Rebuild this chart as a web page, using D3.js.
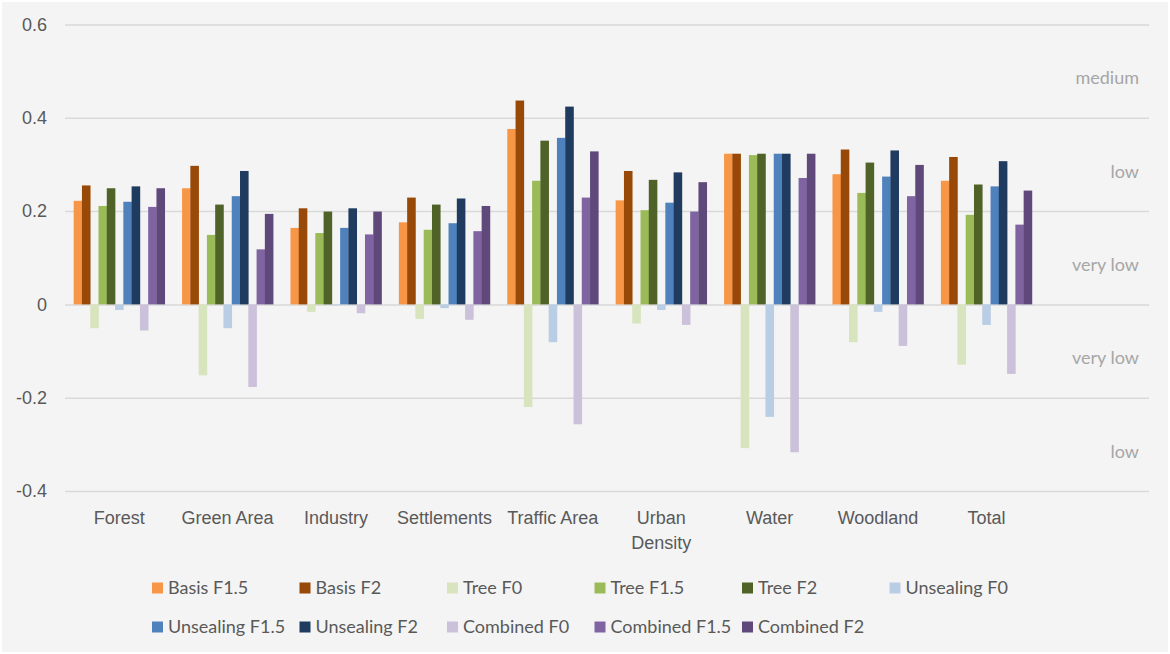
<!DOCTYPE html>
<html>
<head>
<meta charset="utf-8">
<script src="https://cdn.jsdelivr.net/npm/d3@7"></script>
<style>
  html, body { margin: 0; padding: 0; background: #fff; }
  svg { display: block; font-family: Lato, "Open Sans", sans-serif; }
</style>
</head>
<body>
<div id="chart"></div>
<script>
// categories along the x axis (Excel leaves one empty slot at the end)
const categories = ["Forest", "Green Area", "Industry", "Settlements", "Traffic Area",
  "Urban Density", "Water", "Woodland", "Total"];

// series values, one per category
const basisF15     = [0.222, 0.249, 0.164, 0.176, 0.376, 0.223, 0.323, 0.279, 0.265];
const basisF2      = [0.255, 0.297, 0.206, 0.229, 0.437, 0.286, 0.323, 0.332, 0.316];
const treeF0       = [-0.051, -0.152, -0.016, -0.031, -0.220, -0.041, -0.308, -0.081, -0.129];
const treeF15      = [0.211, 0.149, 0.153, 0.160, 0.265, 0.202, 0.320, 0.239, 0.192];
const treeF2       = [0.249, 0.214, 0.199, 0.214, 0.351, 0.267, 0.323, 0.304, 0.257];
const unsealingF0  = [-0.012, -0.051, -0.002, -0.008, -0.081, -0.012, -0.241, -0.016, -0.044];
const unsealingF15 = [0.220, 0.232, 0.164, 0.174, 0.357, 0.218, 0.323, 0.274, 0.253];
const unsealingF2  = [0.253, 0.286, 0.206, 0.227, 0.424, 0.283, 0.323, 0.330, 0.307];
const combinedF0   = [-0.056, -0.177, -0.019, -0.033, -0.257, -0.044, -0.317, -0.089, -0.149];
const combinedF15  = [0.209, 0.118, 0.150, 0.157, 0.229, 0.199, 0.271, 0.232, 0.171];
const combinedF2   = [0.249, 0.194, 0.199, 0.211, 0.328, 0.262, 0.323, 0.299, 0.244];

const seriesNames = ["Basis F1.5", "Basis F2", "Tree F0", "Tree F1.5", "Tree F2", "Unsealing F0",
  "Unsealing F1.5", "Unsealing F2", "Combined F0", "Combined F1.5", "Combined F2"];
const seriesValues = [basisF15, basisF2, treeF0, treeF15, treeF2, unsealingF0,
  unsealingF15, unsealingF2, combinedF0, combinedF15, combinedF2];

// y axis ticks
const yTicks = [-0.4, -0.2, 0, 0.2, 0.4, 0.6];
const yTickLabels = ["-0.4", "-0.2", "0", "0.2", "0.4", "0.6"];

// rating labels on the right, each sits in the middle of a grid band
const zoneLabels = ["medium", "low", "very low", "very low", "low"];
const zoneValues = [0.5, 0.3, 0.1, -0.1, -0.3];

const colors = ["#f79646", "#984807", "#d7e4bd", "#9bbb59", "#4f6228", "#b9cde5",
  "#4f81bd", "#1f3b5f", "#ccc1da", "#8064a2", "#5f497a"];

const width = 1170, height = 654;
const plot = { left: 65, right: 1149, top: 24.5, bottom: 491 };

const svg = d3.select("#chart").append("svg")
  .attr("width", width)
  .attr("height", height);

// panel background
svg.append("rect")
  .attr("x", 2).attr("y", 2)
  .attr("width", width - 4).attr("height", height - 4)
  .attr("fill", "#f4f4f4");

const x = d3.scaleBand()
  .domain([...categories, ""])
  .range([plot.left, plot.right])
  .paddingInner(0.16)
  .paddingOuter(0.08);

const xSeries = d3.scaleBand()
  .domain(seriesNames)
  .range([0, x.bandwidth()]);

const y = d3.scaleLinear()
  .domain([-0.4, 0.6])
  .range([plot.bottom, plot.top]);

// y axis with grid lines
const yAxis = svg.append("g")
  .attr("transform", `translate(${plot.left},0)`)
  .call(d3.axisLeft(y)
    .tickValues(yTicks)
    .tickFormat((d, i) => yTickLabels[i])
    .tickSize(-(plot.right - plot.left))
    .tickPadding(18));

yAxis.select(".domain").remove();
yAxis.selectAll(".tick line")
  .attr("stroke", "#d9d9d9")
  .attr("stroke-width", 1.5);
yAxis.selectAll(".tick text")
  .attr("fill", "#595959")
  .attr("font-size", 18);

// bars
const rows = categories.map((c, i) => ({
  category: c,
  values: seriesNames.map((s, j) => ({ series: s, index: j, value: seriesValues[j][i] }))
}));

const groups = svg.append("g")
  .selectAll("g")
  .data(rows)
  .join("g")
  .attr("transform", d => `translate(${x(d.category)},0)`);

groups.selectAll("rect")
  .data(d => d.values)
  .join("rect")
  .attr("x", d => xSeries(d.series))
  .attr("width", xSeries.bandwidth() + 0.3)
  .attr("y", d => y(Math.max(0, d.value)))
  .attr("height", d => Math.abs(y(d.value) - y(0)))
  .attr("fill", d => colors[d.index]);

// category labels
const xAxis = svg.append("g")
  .attr("transform", `translate(0,${plot.bottom})`)
  .call(d3.axisBottom(x).tickSize(0).tickPadding(20));

xAxis.select(".domain").remove();
xAxis.selectAll(".tick text")
  .attr("fill", "#595959")
  .attr("font-size", 18)
  .each(function(d) {
    const text = d3.select(this);
    if (this.getComputedTextLength() > 100) {
      const words = d.split(" ");
      text.text(null);
      words.forEach((w, i) => {
        text.append("tspan")
          .attr("x", 0)
          .attr("dy", i === 0 ? "0.71em" : "1.4em")
          .text(w);
      });
      text.attr("dy", null);
    }
  });

// right side rating labels
svg.append("g")
  .selectAll("text")
  .data(zoneLabels)
  .join("text")
  .attr("x", 1139)
  .attr("y", (d, i) => y(zoneValues[i]) + 7)
  .attr("dy", "0.35em")
  .attr("text-anchor", "end")
  .attr("fill", "#a6a6a6")
  .attr("font-size", 18)
  .text(d => d);

// legend, two rows of six columns
const legend = svg.append("g")
  .selectAll("g")
  .data(seriesNames)
  .join("g")
  .attr("transform", (d, i) => `translate(${152 + (i % 6) * 147.5},${i < 6 ? 588 : 627})`);

legend.append("rect")
  .attr("x", 0).attr("y", -5.5)
  .attr("width", 11).attr("height", 11)
  .attr("fill", (d, i) => colors[i]);

legend.append("text")
  .attr("x", 16)
  .attr("dy", "0.35em")
  .attr("fill", "#595959")
  .attr("font-size", 18)
  .text(d => d);
</script>
</body>
</html>
